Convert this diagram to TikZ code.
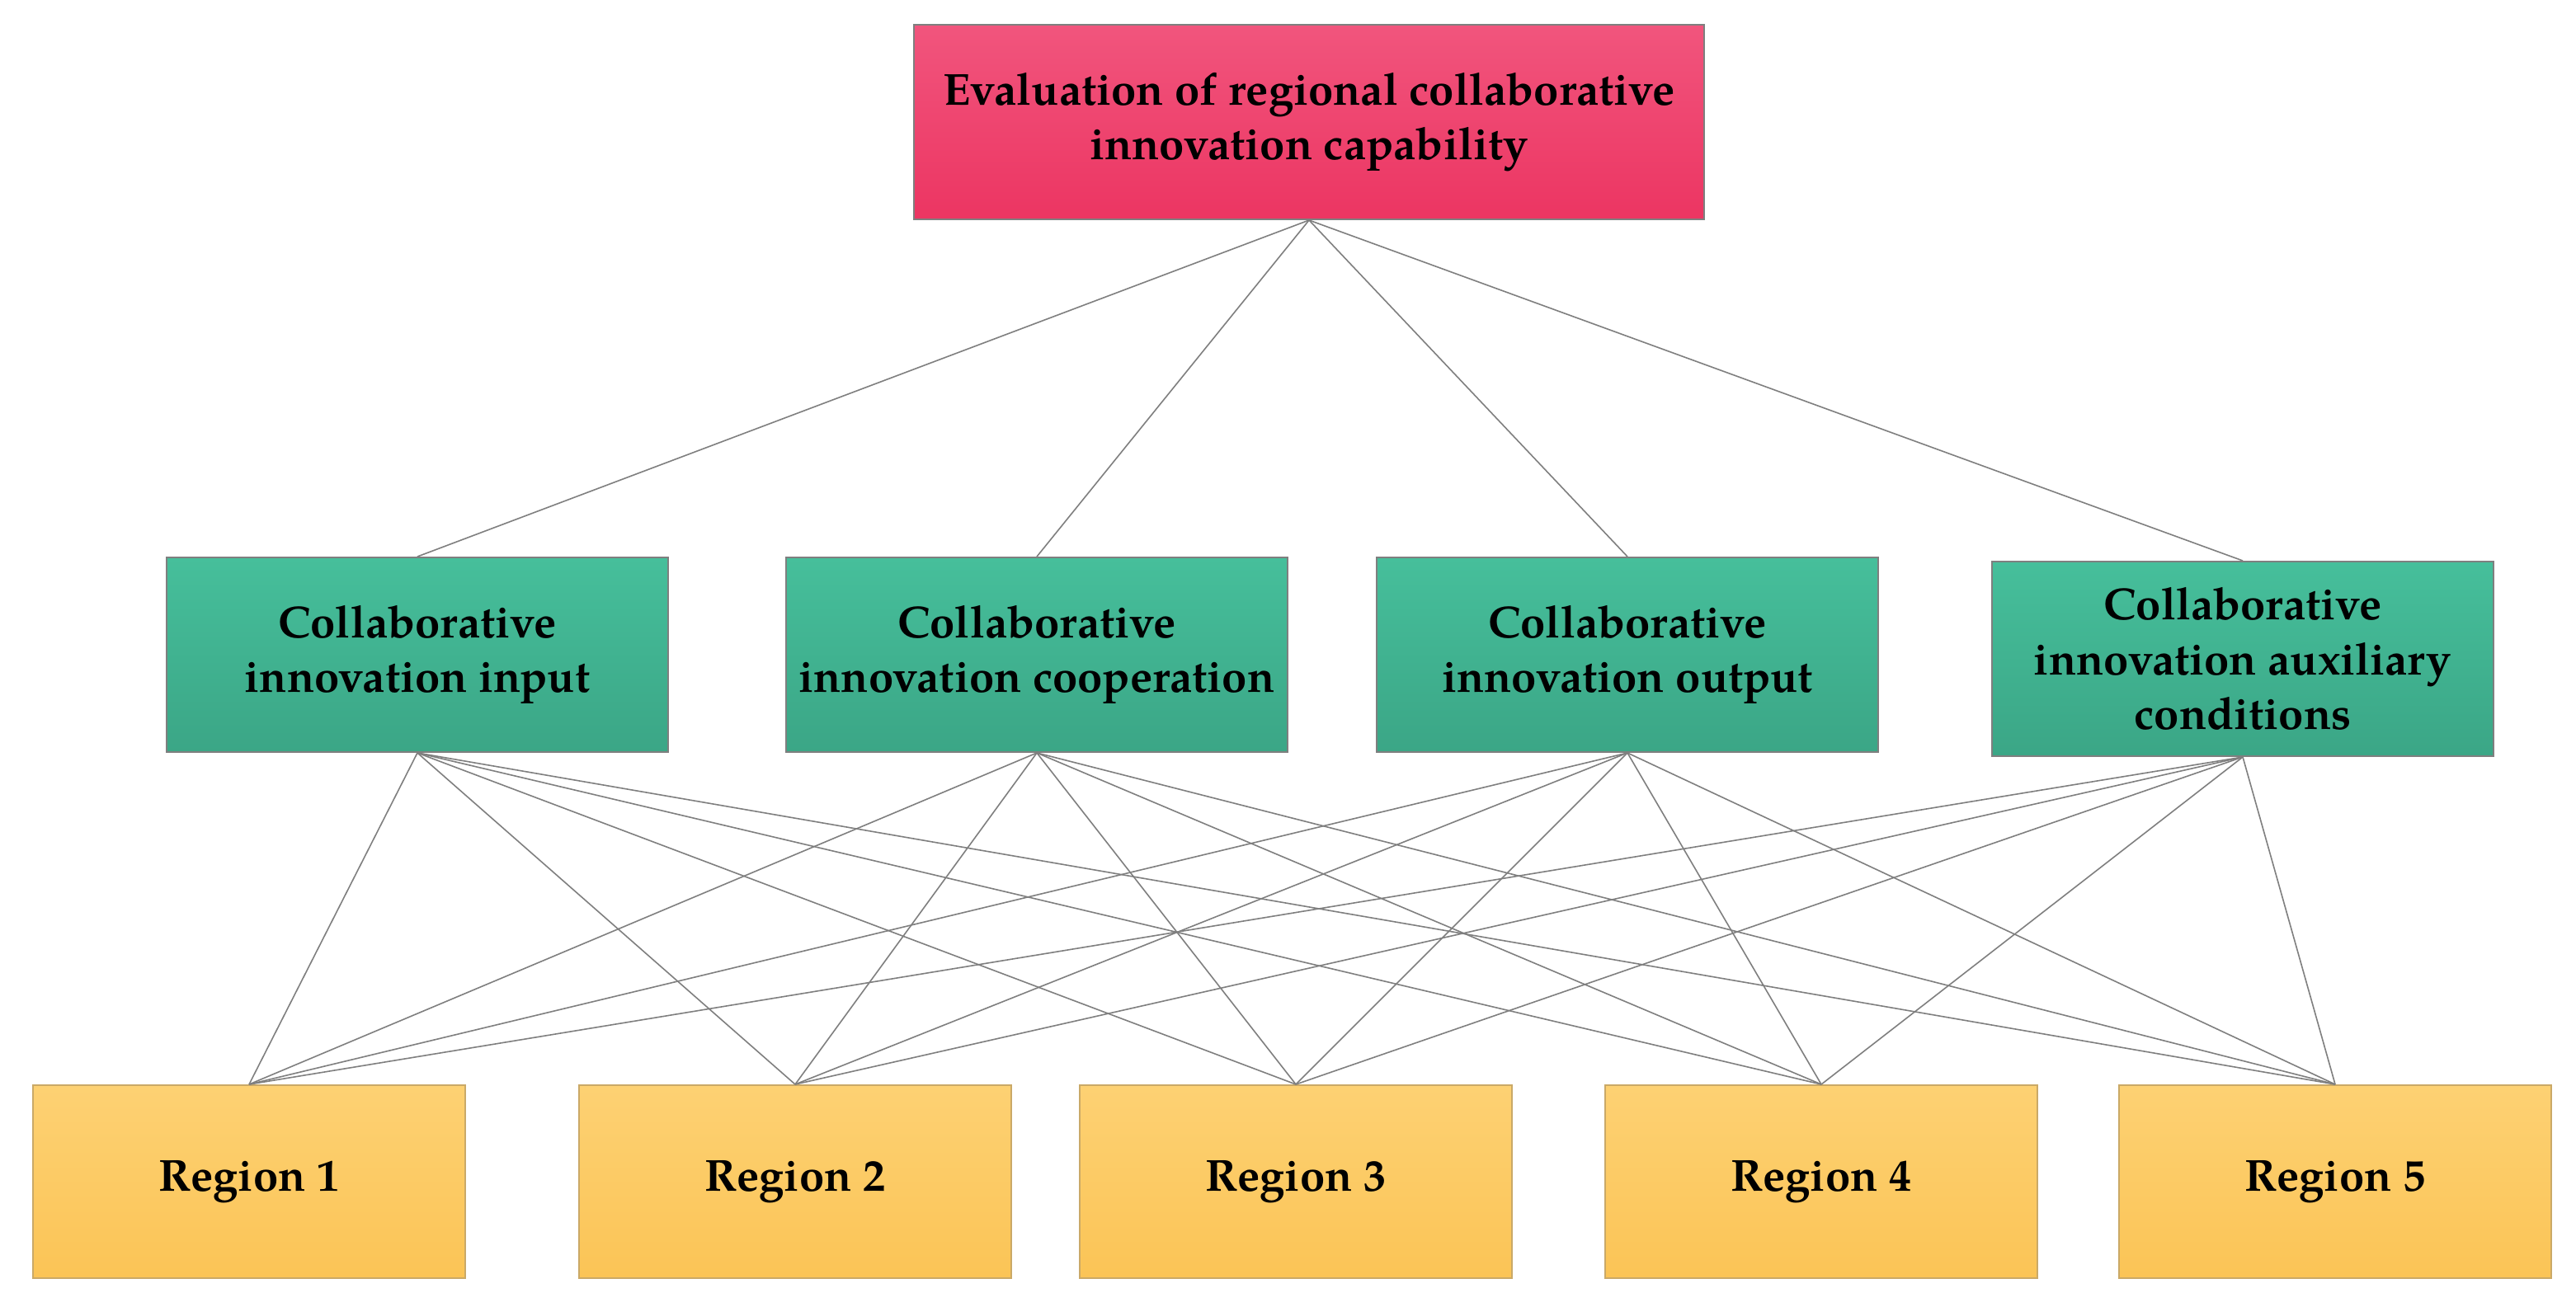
\documentclass[tikz,border=0pt]{standalone}
\usepackage{fontspec}
\setmainfont{TeX Gyre Pagella}
\usepackage{xcolor}
\usepackage{tikz}
\usetikzlibrary{positioning,calc}

\definecolor{pinktop}{HTML}{F1557D}
\definecolor{pinkbot}{HTML}{EC3562}
\definecolor{greentop}{HTML}{46BF9B}
\definecolor{greenbot}{HTML}{3BA686}
\definecolor{yellowtop}{HTML}{FDD173}
\definecolor{yellowbot}{HTML}{FBC456}
\definecolor{edgegray}{HTML}{7F7F7F}

\begin{document}
\begin{tikzpicture}[every node/.style={rectangle, draw=edgegray, line width=0.5pt, align=center, inner sep=2pt,
                    font=\fontsize{13.6}{16.6}\selectfont\bfseries},
                    goalbox/.style={top color=pinktop, bottom color=pinkbot, minimum width=239.5pt, minimum height=59pt},
                    critbox/.style={top color=greentop, bottom color=greenbot, minimum width=152pt, minimum height=59pt},
                    regionbox/.style={top color=yellowtop, bottom color=yellowbot, draw=yellowbot!60!gray, minimum width=131pt, minimum height=58.5pt},
                    link/.style={draw=edgegray, line width=0.4pt}]

\useasboundingbox (0,0) rectangle (780.75pt,-396pt);

\node[goalbox] (goal) at (396.75pt,-37pt) {Evaluation of regional collaborative \\ innovation capability};

\node[critbox] (input) at (126.5pt,-198.5pt) {Collaborative \\ innovation input};
\node[critbox] (coop) at (314.25pt,-198.5pt) {Collaborative \\ innovation cooperation};
\node[critbox] (output) at (493.25pt,-198.5pt) {Collaborative \\ innovation output};
\node[critbox] (aux) at (679.75pt,-199.75pt) {Collaborative \\ innovation auxiliary \\ conditions};

\node[regionbox] (r1) at (75.5pt,-358.25pt) {Region 1};
\node[regionbox] (r2) at (241pt,-358.25pt) {Region 2};
\node[regionbox] (r3) at (392.75pt,-358.25pt) {Region 3};
\node[regionbox] (r4) at (552pt,-358.25pt) {Region 4};
\node[regionbox] (r5) at (707.75pt,-358.25pt) {Region 5};

\foreach \c in {input,coop,output,aux}
  \draw[link] (goal.south) -- (\c.north);

\foreach \c in {input,coop,output,aux}
  \foreach \r in {r1,r2,r3,r4,r5}
    \draw[link] (\c.south) -- (\r.north);

\end{tikzpicture}
\end{document}
